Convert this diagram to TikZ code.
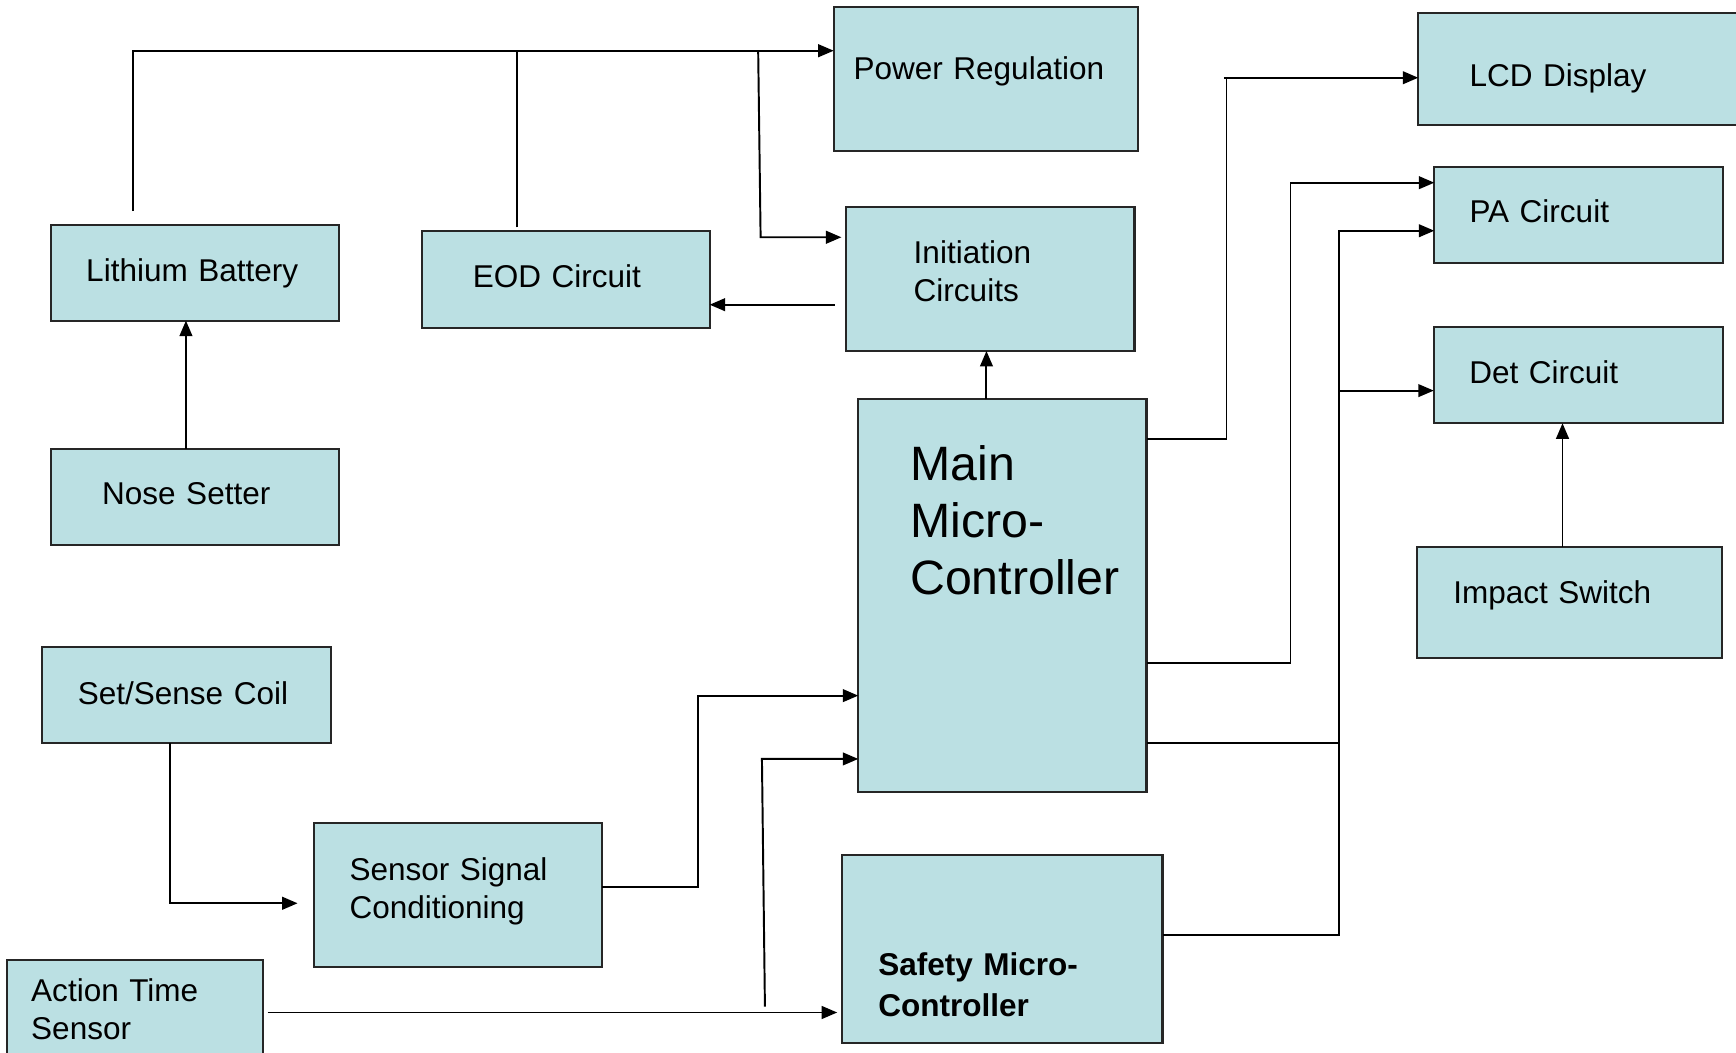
\documentclass[tikz,border=0pt]{standalone}
\usepackage{fontspec}
\setmainfont{Liberation Sans}
\usepackage{tikz}
\usetikzlibrary{shapes,arrows,arrows.meta,positioning}
\definecolor{boxfill}{RGB}{187,224,227}
\definecolor{boxline}{RGB}{38,38,38}

\begin{document}
\begin{tikzpicture}[
  x=0.1mm, y=-0.1mm,
  blk/.style={draw=boxline, fill=boxfill, line width=0.55pt, anchor=north west,
    inner sep=0pt, outer sep=0pt, align=left, font=\fontsize{8.1}{9.8}\selectfont},
  indent/.style={execute at begin node={\leftskip=#1}},
  arr/.style={-{Triangle[length=1.4mm,width=1.15mm]}},
  every path/.append style={line width=0.5pt},
]
\useasboundingbox (0,0) rectangle (1568,951);

% blocks
\node[blk, text width=27.5mm, indent=1.8mm, text height=6.62mm, text depth=6.38mm]
  (powreg) at (753,6) {Power Regulation};
\node[blk, text width=30mm, indent=4.63mm, text height=6.63mm, text depth=3.52mm]
  (lcd) at (1281,11.4) {LCD Display};
\node[blk, text width=26.1mm, indent=3.18mm, text height=5.01mm, text depth=3.67mm]
  (pa) at (1295.5,151.1) {PA Circuit};
\node[blk, text width=26.1mm, indent=3.22mm, text height=5.06mm, text depth=3.61mm]
  (det) at (1295,295.6) {Det Circuit};
\node[blk, text width=27.5mm, indent=3.27mm, text height=5.11mm, text depth=4.97mm]
  (impact) at (1280,493.7) {Impact Switch};
\node[blk, text width=26.07mm, indent=6.13mm, text height=5.06mm, text depth=7.92mm]
  (init) at (764,187.2) {Initiation\\Circuits};
\node[blk, text width=26.04mm, indent=4.7mm, text height=7.34mm, text depth=28.1mm,
  font=\fontsize{12.4}{14.6}\selectfont]
  (mainmc) at (775.2,360.6) {Main\\Micro-\\Controller};
\node[blk, text width=28.92mm, indent=3.25mm, text height=10.82mm, text depth=6.15mm,
  font=\fontsize{8.1}{10.5}\selectfont\bfseries]
  (safety) at (760.8,772.6) {Safety Micro-\\Controller};
\node[blk, text width=26.03mm, indent=3.21mm, text height=5.12mm, text depth=3.52mm]
  (lith) at (45.8,203.2) {Lithium Battery};
\node[blk, text width=25.99mm, indent=4.6mm, text height=5.06mm, text depth=3.65mm]
  (eod) at (381.1,208.9) {EOD Circuit};
\node[blk, text width=26.03mm, indent=4.65mm, text height=5.05mm, text depth=3.62mm]
  (nose) at (45.8,405.5) {Nose Setter};
\node[blk, text width=26.1mm, indent=3.27mm, text height=5.21mm, text depth=3.46mm]
  (coil) at (37.6,584.6) {Set/Sense Coil};
\node[blk, text width=26.04mm, indent=3.21mm, text height=5.18mm, text depth=7.83mm]
  (ssc) at (283.6,743.5) {Sensor Signal\\Conditioning};
\node[blk, text width=23.18mm, indent=2.22mm, text height=3.76mm, text depth=10mm]
  (ats) at (6,867) {Action Time\\Sensor};

% bends and taps
\coordinate (pwrbus) at (120,45.8);
\coordinate (lcdturn) at (1107.8,70.2);
\coordinate (outbus) at (1209,352.8);
\coordinate (atstap) at (690.9,909.1);

% power side
\draw[arr] (lith.north west) ++(74,-12.6) |- ([yshift=2.52mm]powreg.west);
\draw ([xshift=8.58mm,yshift=0.36mm]eod.north west) -- ([xshift=8.58mm]eod.north west |- pwrbus);
\draw[arr, shorten >=0.4mm] ([xshift=-7.92mm]init.west |- pwrbus)
  -- ([xshift=-7.7mm,yshift=3.78mm]init.west) -- ([yshift=3.78mm]init.west);
\draw[arr] ([xshift=-1mm,yshift=-2.31mm]init.west) -- ([yshift=-2.31mm]init.west -| eod.east);
\draw[arr] ([xshift=-1.44mm]mainmc.north) -- ([xshift=-1.44mm]mainmc.north |- init.south);
\draw[arr] ([xshift=-0.8mm]nose.north) -- ([xshift=-0.8mm]nose.north |- lith.south);

% outputs
\draw ([yshift=-3.61mm]mainmc.north east) -| (lcdturn);
\draw[arr] ([xshift=-0.24mm]lcdturn) -- (lcdturn -| lcd.west);
\draw[arr] ([yshift=-23.84mm]mainmc.north east)
  -| ([xshift=-12.99mm,yshift=2.95mm]pa.west) -- ([yshift=2.95mm]pa.west);
\draw[arr] ([yshift=1.29mm]safety.east) -| (outbus) |- ([yshift=-1.39mm]pa.west);
\draw[arr] (outbus) -- (outbus -| det.west);
\draw ([yshift=-31.07mm]mainmc.north east) -- ([yshift=-31.07mm]mainmc.north east -| outbus);
\draw[arr] ([xshift=-0.62mm]impact.north) -- ([xshift=-0.62mm]impact.north |- det.south);

% sensors
\draw[arr, shorten >=1.48mm] ([xshift=-1.43mm]coil.south) |- ([yshift=-0.73mm]ssc.west);
\draw[arr] ([yshift=0.72mm]ssc.east)
  -| ([xshift=-14.45mm,yshift=-26.77mm]mainmc.north west) -- ([yshift=-26.77mm]mainmc.north west);
\draw[arr] (atstap) -- ([xshift=-8.7mm,yshift=-32.49mm]mainmc.north west)
  -- ([yshift=-32.49mm]mainmc.north west);
\draw[arr, shorten >=0.46mm] ([xshift=0.39mm,yshift=-4.75mm]ats.north east)
  -- ([yshift=-4.75mm]ats.north east -| safety.west);
\end{tikzpicture}
\end{document}
